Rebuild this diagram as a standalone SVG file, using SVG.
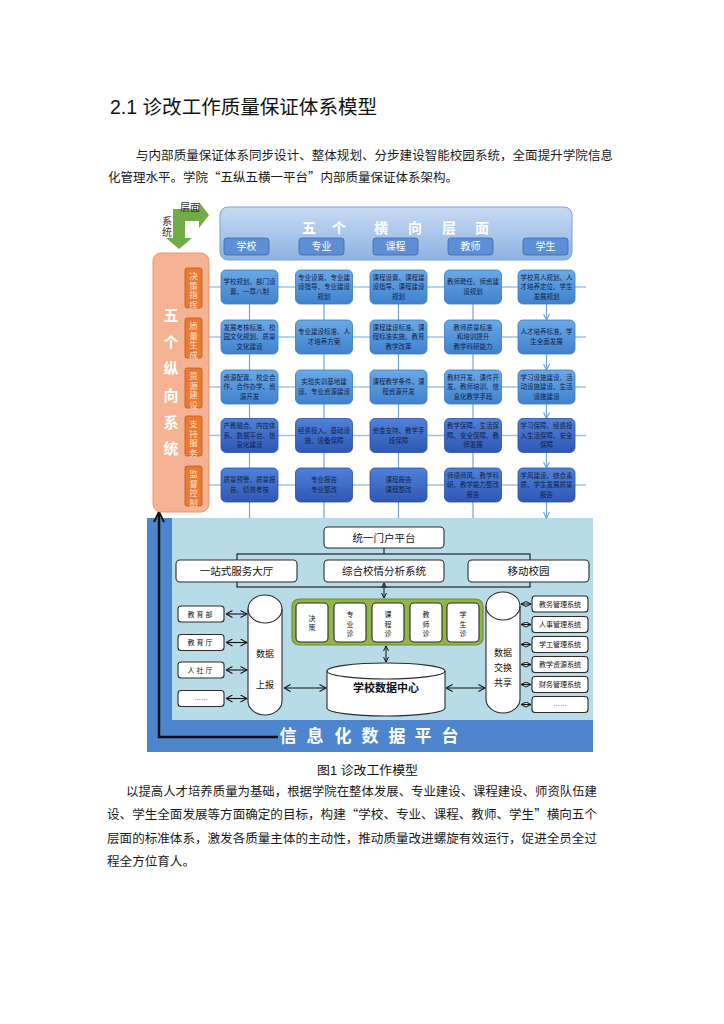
<svg xmlns="http://www.w3.org/2000/svg" width="724" height="1024" viewBox="0 0 724 1024">
<defs>
<style>
text{font-family:"Liberation Sans","Noto Sans CJK SC",sans-serif;}
.body{font-size:12.5px;fill:#1a1a1a;font-family:"Noto Sans CJK SC","Liberation Sans",sans-serif;}
.ct{font-size:6.5px;fill:#14224a;text-anchor:middle;}
.gl{fill:url(#gL);stroke:#3a78c2;stroke-width:0.8;}
.gd{fill:url(#gD);stroke:#2a4fa6;stroke-width:0.8;}
.ob{fill:#e97b34;stroke:#c4581c;stroke-width:0.8;}
.ot{font-size:8.5px;fill:#fde3cf;text-anchor:middle;}
.btn{fill:#5d8fd6;stroke:#3c67ad;stroke-width:0.8;}
.bt{font-size:10px;fill:#fff;text-anchor:middle;}
.wb{fill:#fff;stroke:#2b2b2b;stroke-width:1.1;}
.wt{font-size:10.5px;fill:#111;text-anchor:middle;}
.st{font-size:7px;fill:#111;text-anchor:middle;}
.gt{font-size:7px;fill:#111;text-anchor:middle;}
.rl{stroke:#9cc3ea;stroke-width:1.6;fill:none;}
.va{stroke:#6fa6de;stroke-width:1.2;fill:none;marker-end:url(#mB);}
.ka{stroke:#111;stroke-width:1.1;fill:none;marker-start:url(#mK);marker-end:url(#mK);}
.ks{stroke:#111;stroke-width:1;fill:none;marker-start:url(#mS);marker-end:url(#mS);}
.big{font-size:15px;font-weight:bold;fill:#fff;text-anchor:middle;}
.plat{font-size:17px;font-weight:bold;fill:#fff;text-anchor:middle;}
</style>
<linearGradient id="gL" x1="0" y1="0" x2="0" y2="1"><stop offset="0" stop-color="#6aa9e6"/><stop offset="1" stop-color="#3f82cd"/></linearGradient>
<linearGradient id="gD" x1="0" y1="0" x2="0" y2="1"><stop offset="0" stop-color="#4f82d8"/><stop offset="1" stop-color="#2f57b5"/></linearGradient>
<linearGradient id="gBan" x1="0" y1="0" x2="0" y2="1"><stop offset="0" stop-color="#c8dbf2"/><stop offset="1" stop-color="#8db2e2"/></linearGradient>
<marker id="mB" viewBox="0 0 8 8" refX="7" refY="4" markerWidth="8" markerHeight="8" markerUnits="userSpaceOnUse" orient="auto"><path d="M1,1 L7,4 L1,7" fill="none" stroke="#6fa6de" stroke-width="1.2"/></marker>
<marker id="mK" viewBox="0 0 8 8" refX="7.5" refY="4" markerWidth="8" markerHeight="8" markerUnits="userSpaceOnUse" orient="auto-start-reverse"><path d="M1,0.5 L7.5,4 L1,7.5" fill="none" stroke="#111" stroke-width="1.1"/></marker>
<marker id="mS" viewBox="0 0 6 6" refX="5.5" refY="3" markerWidth="6" markerHeight="6" markerUnits="userSpaceOnUse" orient="auto-start-reverse"><path d="M0.5,0.5 L5.5,3 L0.5,5.5" fill="none" stroke="#111" stroke-width="1"/></marker>
<marker id="mUp" viewBox="0 0 12 12" refX="11" refY="6" markerWidth="12" markerHeight="12" markerUnits="userSpaceOnUse" orient="auto"><path d="M1,1 L11,6 L1,11" fill="none" stroke="#111" stroke-width="2"/></marker>
</defs>
<rect width="724" height="1024" fill="#fff"/>

<!-- text -->
<text x="110" y="114" font-size="19.5" fill="#111" textLength="267" lengthAdjust="spacingAndGlyphs">2.1  诊改工作质量保证体系模型</text>
<text class="body" x="136" y="159.5" textLength="477" lengthAdjust="spacingAndGlyphs">与内部质量保证体系同步设计、整体规划、分步建设智能校园系统，全面提升学院信息</text>
<text class="body" x="108" y="181.5" textLength="350" lengthAdjust="spacingAndGlyphs">化管理水平。学院“五纵五横一平台”内部质量保证体系架构。</text>
<text x="317" y="774.5" font-size="12" fill="#111" textLength="101" lengthAdjust="spacingAndGlyphs">图1  诊改工作模型</text>
<text class="body" x="126" y="795.5" textLength="471" lengthAdjust="spacingAndGlyphs">以提高人才培养质量为基础，根据学院在整体发展、专业建设、课程建设、师资队伍建</text>
<text class="body" x="107" y="818.5" textLength="490" lengthAdjust="spacingAndGlyphs">设、学生全面发展等方面确定的目标，构建“学校、专业、课程、教师、学生”横向五个</text>
<text class="body" x="107" y="842.5" textLength="490" lengthAdjust="spacingAndGlyphs">层面的标准体系，激发各质量主体的主动性，推动质量改进螺旋有效运行，促进全员全过</text>
<text class="body" x="107" y="865.5" textLength="88" lengthAdjust="spacingAndGlyphs">程全方位育人。</text>

<!-- platform background -->
<g id="platform">
<rect x="172" y="518" width="421" height="202" fill="#b7dce8"/>
<rect x="147" y="518" width="25" height="234" fill="#4d86cf"/>
<rect x="147" y="720" width="446" height="32" fill="#4d86cf"/>
<text class="plat" x="288" y="742">信</text><text class="plat" x="315" y="742">息</text><text class="plat" x="343" y="742">化</text><text class="plat" x="370" y="742">数</text><text class="plat" x="397" y="742">据</text><text class="plat" x="423" y="742">平</text><text class="plat" x="450" y="742">台</text>
</g>

<!-- connectors -->
<g id="connectors">
<line class="rl" x1="202" y1="287" x2="586" y2="287"/>
<line class="rl" x1="202" y1="337" x2="586" y2="337"/>
<line class="rl" x1="202" y1="387" x2="586" y2="387"/>
<line class="rl" x1="202" y1="435.5" x2="586" y2="435.5"/>
<line class="rl" x1="202" y1="485" x2="586" y2="485"/>
<path class="va" d="M249.5,304V320M324,304V320M398.5,304V320M473,304V320M546.5,304V320"/>
<path class="va" d="M249.5,354V370M324,354V370M398.5,354V370M473,354V370M546.5,354V370"/>
<path class="va" d="M249.5,404V418.5M324,404V418.5M398.5,404V418.5M473,404V418.5M546.5,404V418.5"/>
<path class="va" d="M249.5,452.5V468M324,452.5V468M398.5,452.5V468M473,452.5V468M546.5,452.5V468"/>
<path class="va" d="M249.5,502V518M324,502V518M398.5,502V518M473,502V518M546.5,502V518"/>
<path d="M278,737H159V512" fill="none" stroke="#111" stroke-width="2.5" marker-end="url(#mUp)"/>
<rect x="237" y="554" width="293" height="33" fill="none" stroke="#222" stroke-width="1.2"/>
<line x1="384" y1="548" x2="384" y2="554" stroke="#222" stroke-width="1.2"/>
<line class="ks" x1="384" y1="583" x2="384" y2="598"/>
<line class="ks" x1="386" y1="646" x2="386" y2="662"/>
<line class="ka" x1="226" y1="614" x2="247" y2="614"/>
<line class="ka" x1="226" y1="642.5" x2="247" y2="642.5"/>
<line class="ka" x1="226" y1="670" x2="247" y2="670"/>
<line class="ka" x1="226" y1="698.5" x2="247" y2="698.5"/>
<line class="ka" x1="284" y1="688" x2="326" y2="688"/>
<line class="ka" x1="446" y1="688" x2="485" y2="688"/>
<line class="ks" x1="521" y1="604" x2="531" y2="604"/>
<line class="ks" x1="521" y1="624.5" x2="531" y2="624.5"/>
<line class="ks" x1="521" y1="644.5" x2="531" y2="644.5"/>
<line class="ks" x1="521" y1="664.5" x2="531" y2="664.5"/>
<line class="ks" x1="521" y1="684.5" x2="531" y2="684.5"/>
<line class="ks" x1="521" y1="704.5" x2="531" y2="704.5"/>
</g>

<!-- green L arrow -->
<g id="axis">
<path d="M173,209 L199,209 L199,202 L209,215 L199,228 L199,221 L185,221 L185,238 L192,238 L179,249 L166,238 L173,238 Z" fill="#70ad47"/>
<text x="180" y="211" font-size="10" fill="#333">层面</text>
<text x="167" y="225" font-size="10" fill="#333" text-anchor="middle">系</text>
<text x="167" y="236" font-size="10" fill="#333" text-anchor="middle">统</text>
</g>

<!-- banner -->
<g id="banner">
<rect x="220" y="207" width="352" height="53" rx="8" fill="url(#gBan)" stroke="#7aa3d9" stroke-width="1"/>
<g font-size="14" font-weight="bold" fill="#fff" text-anchor="middle">
<text x="309" y="233">五</text><text x="339" y="233">个</text><text x="381" y="233">横</text><text x="415" y="233">向</text><text x="449" y="233">层</text><text x="482" y="233">面</text>
</g>
</g>
<g id="btn-school"><rect class="btn" x="224" y="238" width="45" height="17" rx="3"/><text class="bt" x="246.5" y="250">学校</text></g>
<g id="btn-major"><rect class="btn" x="299" y="238" width="45" height="17" rx="3"/><text class="bt" x="321.5" y="250">专业</text></g>
<g id="btn-course"><rect class="btn" x="373" y="238" width="45" height="17" rx="3"/><text class="bt" x="395.5" y="250">课程</text></g>
<g id="btn-teacher"><rect class="btn" x="448" y="238" width="45" height="17" rx="3"/><text class="bt" x="470.5" y="250">教师</text></g>
<g id="btn-student"><rect class="btn" x="523" y="238" width="45" height="17" rx="3"/><text class="bt" x="545.5" y="250">学生</text></g>

<!-- vertical systems -->
<g id="vertical">
<rect x="153" y="253" width="56" height="259" rx="8" fill="#f6b393" stroke="#ef9568" stroke-width="1"/>
<text class="big" x="171" y="321">五</text><text class="big" x="171" y="348">个</text><text class="big" x="171" y="374">纵</text><text class="big" x="171" y="401">向</text><text class="big" x="171" y="428">系</text><text class="big" x="171" y="454">统</text>
</g>
<g id="sys1"><rect class="ob" x="185" y="268" width="17" height="40" rx="2"/><text class="ot"><tspan x="193.5" y="279">决</tspan><tspan x="193.5" y="288.5">策</tspan><tspan x="193.5" y="298">指</tspan><tspan x="193.5" y="307.5">挥</tspan></text></g>
<g id="sys2"><rect class="ob" x="185" y="318" width="17" height="40" rx="2"/><text class="ot"><tspan x="193.5" y="329">质</tspan><tspan x="193.5" y="338.5">量</tspan><tspan x="193.5" y="348">生</tspan><tspan x="193.5" y="357.5">成</tspan></text></g>
<g id="sys3"><rect class="ob" x="185" y="368" width="17" height="40" rx="2"/><text class="ot"><tspan x="193.5" y="379">资</tspan><tspan x="193.5" y="388.5">源</tspan><tspan x="193.5" y="398">建</tspan><tspan x="193.5" y="407.5">设</tspan></text></g>
<g id="sys4"><rect class="ob" x="185" y="416" width="17" height="40" rx="2"/><text class="ot"><tspan x="193.5" y="427">支</tspan><tspan x="193.5" y="436.5">持</tspan><tspan x="193.5" y="446">服</tspan><tspan x="193.5" y="455.5">务</tspan></text></g>
<g id="sys5"><rect class="ob" x="185" y="466" width="17" height="40" rx="2"/><text class="ot"><tspan x="193.5" y="477">监</tspan><tspan x="193.5" y="486.5">督</tspan><tspan x="193.5" y="496">控</tspan><tspan x="193.5" y="505.5">制</tspan></text></g>

<!-- grid row 1 -->
<g id="c1r1"><rect class="gl" x="221" y="270" width="57" height="34" rx="5"/><text class="ct" x="249.5" y="284.3">学校规划、部门设</text><text class="ct" x="249.5" y="294.3">置、一章八制</text></g>
<g id="c2r1"><rect class="gl" x="295.5" y="270" width="57" height="34" rx="5"/><text class="ct" x="324" y="279.8">专业设置、专业建</text><text class="ct" x="324" y="289.3">设指导、专业建设</text><text class="ct" x="324" y="298.8">规划</text></g>
<g id="c3r1"><rect class="gl" x="370" y="270" width="57" height="34" rx="5"/><text class="ct" x="398.5" y="279.8">课程设置、课程建</text><text class="ct" x="398.5" y="289.3">设指导、课程建设</text><text class="ct" x="398.5" y="298.8">规划</text></g>
<g id="c4r1"><rect class="gl" x="444.5" y="270" width="57" height="34" rx="5"/><text class="ct" x="473" y="284.3">教师聘任、师资建</text><text class="ct" x="473" y="294.3">设规划</text></g>
<g id="c5r1"><rect class="gl" x="518" y="270" width="57" height="34" rx="5"/><text class="ct" x="546.5" y="279.8">学校育人规划、人</text><text class="ct" x="546.5" y="289.3">才培养定位、学生</text><text class="ct" x="546.5" y="298.8">发展规划</text></g>
<!-- row 2 -->
<g id="c1r2"><rect class="gl" x="221" y="320" width="57" height="34" rx="5"/><text class="ct" x="249.5" y="329.8">发展考核标准、校</text><text class="ct" x="249.5" y="339.3">园文化规划、质量</text><text class="ct" x="249.5" y="348.8">文化建设</text></g>
<g id="c2r2"><rect class="gl" x="295.5" y="320" width="57" height="34" rx="5"/><text class="ct" x="324" y="334.3">专业建设标准、人</text><text class="ct" x="324" y="344.3">才培养方案</text></g>
<g id="c3r2"><rect class="gl" x="370" y="320" width="57" height="34" rx="5"/><text class="ct" x="398.5" y="329.8">课程建设标准、课</text><text class="ct" x="398.5" y="339.3">程标准实施、教育</text><text class="ct" x="398.5" y="348.8">教学改革</text></g>
<g id="c4r2"><rect class="gl" x="444.5" y="320" width="57" height="34" rx="5"/><text class="ct" x="473" y="329.8">教师质量标准</text><text class="ct" x="473" y="339.3">和培训提升</text><text class="ct" x="473" y="348.8">教学科研能力</text></g>
<g id="c5r2"><rect class="gl" x="518" y="320" width="57" height="34" rx="5"/><text class="ct" x="546.5" y="334.3">人才培养标准、学</text><text class="ct" x="546.5" y="344.3">生全面发展</text></g>
<!-- row 3 -->
<g id="c1r3"><rect class="gl" x="221" y="370" width="57" height="34" rx="5"/><text class="ct" x="249.5" y="379.8">资源配置、校企合</text><text class="ct" x="249.5" y="389.3">作、合作办学、资</text><text class="ct" x="249.5" y="398.8">源开发</text></g>
<g id="c2r3"><rect class="gl" x="295.5" y="370" width="57" height="34" rx="5"/><text class="ct" x="324" y="384.3">实验实训基地建</text><text class="ct" x="324" y="394.3">设、专业资源建设</text></g>
<g id="c3r3"><rect class="gl" x="370" y="370" width="57" height="34" rx="5"/><text class="ct" x="398.5" y="384.3">课程教学条件、课</text><text class="ct" x="398.5" y="394.3">程资源开发</text></g>
<g id="c4r3"><rect class="gl" x="444.5" y="370" width="57" height="34" rx="5"/><text class="ct" x="473" y="379.8">教材开发、课件开</text><text class="ct" x="473" y="389.3">发、教师培训、信</text><text class="ct" x="473" y="398.8">息化教学手段</text></g>
<g id="c5r3"><rect class="gl" x="518" y="370" width="57" height="34" rx="5"/><text class="ct" x="546.5" y="379.8">学习设施建设、活</text><text class="ct" x="546.5" y="389.3">动设施建设、生活</text><text class="ct" x="546.5" y="398.8">设施建设</text></g>
<!-- row 4 -->
<g id="c1r4"><rect class="gd" x="221" y="418.5" width="57" height="34" rx="5"/><text class="ct" x="249.5" y="428.3">产教融合、内控体</text><text class="ct" x="249.5" y="437.8">系、数据平台、信</text><text class="ct" x="249.5" y="447.3">息化建设</text></g>
<g id="c2r4"><rect class="gd" x="295.5" y="418.5" width="57" height="34" rx="5"/><text class="ct" x="324" y="432.8">经费投入、基础设</text><text class="ct" x="324" y="442.8">施、设备保障</text></g>
<g id="c3r4"><rect class="gd" x="370" y="418.5" width="57" height="34" rx="5"/><text class="ct" x="398.5" y="432.8">资金支持、教学手</text><text class="ct" x="398.5" y="442.8">段保障</text></g>
<g id="c4r4"><rect class="gd" x="444.5" y="418.5" width="57" height="34" rx="5"/><text class="ct" x="473" y="428.3">教学保障、生活保</text><text class="ct" x="473" y="437.8">障、安全保障、教</text><text class="ct" x="473" y="447.3">师发展</text></g>
<g id="c5r4"><rect class="gd" x="518" y="418.5" width="57" height="34" rx="5"/><text class="ct" x="546.5" y="428.3">学习保障、经费投</text><text class="ct" x="546.5" y="437.8">入生活保障、安全</text><text class="ct" x="546.5" y="447.3">保障</text></g>
<!-- row 5 -->
<g id="c1r5"><rect class="gd" x="221" y="468" width="57" height="34" rx="5"/><text class="ct" x="249.5" y="482.3">质量预警、质量报</text><text class="ct" x="249.5" y="492.3">告、绩效考核</text></g>
<g id="c2r5"><rect class="gd" x="295.5" y="468" width="57" height="34" rx="5"/><text class="ct" x="324" y="482.3">专业报告</text><text class="ct" x="324" y="492.3">专业整改</text></g>
<g id="c3r5"><rect class="gd" x="370" y="468" width="57" height="34" rx="5"/><text class="ct" x="398.5" y="482.3">课程报告</text><text class="ct" x="398.5" y="492.3">课程整改</text></g>
<g id="c4r5"><rect class="gd" x="444.5" y="468" width="57" height="34" rx="5"/><text class="ct" x="473" y="477.8">师德师风、教学科</text><text class="ct" x="473" y="487.3">研、教学能力整改</text><text class="ct" x="473" y="496.8">报告</text></g>
<g id="c5r5"><rect class="gd" x="518" y="468" width="57" height="34" rx="5"/><text class="ct" x="546.5" y="477.8">学风建设、综合素</text><text class="ct" x="546.5" y="487.3">质、学生发展质量</text><text class="ct" x="546.5" y="496.8">报告</text></g>

<!-- platform nodes -->
<g id="portal"><rect class="wb" x="324" y="527" width="120" height="21" rx="4"/><text class="wt" x="384" y="541.5">统一门户平台</text></g>
<g id="hall"><rect class="wb" x="176" y="560" width="121" height="22" rx="4"/><text class="wt" x="236.5" y="575">一站式服务大厅</text></g>
<g id="analysis"><rect class="wb" x="324" y="560" width="120" height="22" rx="4"/><text class="wt" x="384" y="575">综合校情分析系统</text></g>
<g id="mobile"><rect class="wb" x="468" y="560" width="121" height="22" rx="4"/><text class="wt" x="528.5" y="575">移动校园</text></g>

<g id="diag-panel">
<rect x="292" y="599" width="191" height="46" rx="7" fill="#92b54a" stroke="#6f8f2f" stroke-width="1.2"/>
<rect class="wb" x="296" y="603" width="32" height="39" rx="4"/><text class="gt"><tspan x="312" y="621">决</tspan><tspan x="312" y="630">策</tspan></text>
<rect class="wb" x="334" y="603" width="32" height="39" rx="4"/><text class="gt"><tspan x="350" y="617">专</tspan><tspan x="350" y="626.5">业</tspan><tspan x="350" y="636">诊</tspan></text>
<rect class="wb" x="372" y="603" width="32" height="39" rx="4"/><text class="gt"><tspan x="388" y="617">课</tspan><tspan x="388" y="626.5">程</tspan><tspan x="388" y="636">诊</tspan></text>
<rect class="wb" x="410" y="603" width="32" height="39" rx="4"/><text class="gt"><tspan x="426" y="617">教</tspan><tspan x="426" y="626.5">师</tspan><tspan x="426" y="636">诊</tspan></text>
<rect class="wb" x="447" y="603" width="32" height="39" rx="4"/><text class="gt"><tspan x="463" y="617">学</tspan><tspan x="463" y="626.5">生</tspan><tspan x="463" y="636">诊</tspan></text>
</g>

<g id="datacenter">
<path d="M327,671 A59,8 0 0 1 445,671 L445,708 A59,8 0 0 1 327,708 Z" class="wb"/>
<path d="M327,671 A59,8 0 0 0 445,671" fill="none" stroke="#2b2b2b" stroke-width="1.1"/>
<text x="386" y="692" font-size="11" font-weight="bold" fill="#111" text-anchor="middle">学校数据中心</text>
</g>

<g id="report">
<path d="M248,609 A17,14 0 0 1 282,609 L282,701 A17,14 0 0 1 248,701 Z" class="wb"/>
<path d="M248,609 A17,14 0 0 0 282,609" fill="none" stroke="#2b2b2b" stroke-width="1.1"/>
<text x="265" y="657" font-size="9" fill="#111" text-anchor="middle">数据</text>
<text x="265" y="688" font-size="9" fill="#111" text-anchor="middle">上报</text>
</g>

<g id="exchange">
<path d="M486,606 A17,14 0 0 1 520,606 L520,699 A17,14 0 0 1 486,699 Z" class="wb"/>
<path d="M486,606 A17,14 0 0 0 520,606" fill="none" stroke="#2b2b2b" stroke-width="1.1"/>
<text x="503" y="656" font-size="9" fill="#111" text-anchor="middle">数据</text>
<text x="503" y="671" font-size="9" fill="#111" text-anchor="middle">交换</text>
<text x="503" y="686" font-size="9" fill="#111" text-anchor="middle">共享</text>
</g>

<g id="ext-moe"><rect class="wb" x="178" y="606" width="46" height="16" rx="3"/><text class="st" x="201" y="616.5" letter-spacing="2">教育部</text></g>
<g id="ext-edu"><rect class="wb" x="178" y="634.5" width="46" height="16" rx="3"/><text class="st" x="201" y="645" letter-spacing="2">教育厅</text></g>
<g id="ext-hr"><rect class="wb" x="178" y="662" width="46" height="16" rx="3"/><text class="st" x="201" y="672.5" letter-spacing="2">人社厅</text></g>
<g id="ext-more"><rect class="wb" x="178" y="690.5" width="46" height="16" rx="3"/><text class="st" x="201" y="700">……</text></g>

<g id="sys-academic"><rect class="wb" x="532" y="596" width="56" height="16" rx="3"/><text class="gt" x="560" y="606.5" font-size="6.5">教务管理系统</text></g>
<g id="sys-hr"><rect class="wb" x="532" y="616.5" width="56" height="16" rx="3"/><text class="gt" x="560" y="627" font-size="6.5">人事管理系统</text></g>
<g id="sys-student"><rect class="wb" x="532" y="636.5" width="56" height="16" rx="3"/><text class="gt" x="560" y="647" font-size="6.5">学工管理系统</text></g>
<g id="sys-resource"><rect class="wb" x="532" y="656.5" width="56" height="16" rx="3"/><text class="gt" x="560" y="667" font-size="6.5">教学资源系统</text></g>
<g id="sys-finance"><rect class="wb" x="532" y="676.5" width="56" height="16" rx="3"/><text class="gt" x="560" y="687" font-size="6.5">财务管理系统</text></g>
<g id="sys-more"><rect class="wb" x="532" y="696.5" width="56" height="16" rx="3"/><text class="gt" x="560" y="706">……</text></g>
</svg>
